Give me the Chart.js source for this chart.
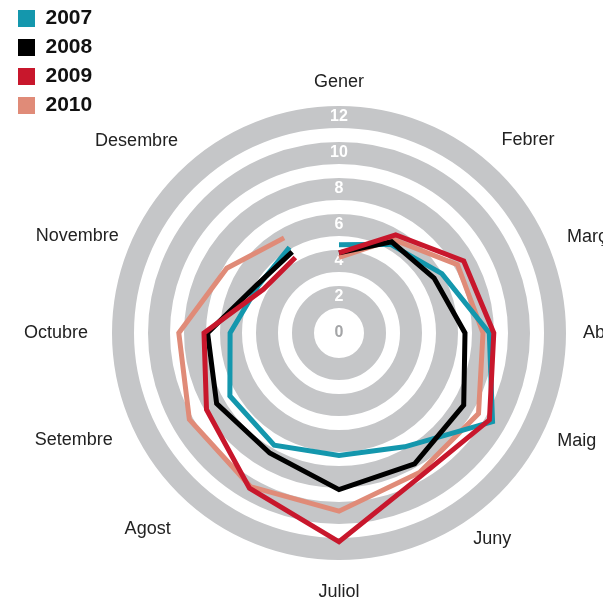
<!DOCTYPE html>
<html>
<head>
<meta charset="utf-8">
<script src="https://cdn.jsdelivr.net/npm/chart.js@4.4.1/dist/chart.umd.min.js"></script>
<style>
  html, body { margin: 0; padding: 0; overflow: hidden; background: #fff; }
  #wrap { position: absolute; left: 0; top: 0; width: 669px; height: 661px; }
</style>
</head>
<body>
<div id="wrap"><canvas id="c"></canvas></div>
<script>
// ---- data ----
const months = ['Gener', 'Febrer', 'Març', 'Abril', 'Maig', 'Juny', 'Juliol', 'Agost', 'Setembre', 'Octubre', 'Novembre', 'Desembre'];
const seriesNames = ['2007', '2008', '2009', '2010'];
const values2007 = [4.9, 5.7, 6.6, 8.35, 9.85, 7.3, 6.8, 7.2, 7.0, 6.05, 5.2, 5.5];
const values2008 = [4.45, 5.85, 6.1, 7.0, 8.0, 8.4, 8.7, 7.7, 7.85, 7.3, 5.3, 5.2];
const values2009 = [4.45, 6.3, 8.0, 8.6, 9.65, 9.15, 11.6, 9.95, 8.5, 7.5, 4.85, 4.85];
const values2010 = [4.2, 6.0, 7.6, 8.0, 8.95, 8.95, 9.9, 9.85, 9.6, 8.9, 7.2, 6.1];
const tickStep = 2, scaleMin = 0, scaleMax = 12;

// ---- styling / layout (not data) ----
const colors = ['#1497ad', '#000000', '#c8172c', '#e08b78'];
const drawOrder = [2, 1, 0, 3];
const labelGap = [35, 54, 50, 46, 45, 41, 43, 58, 70, 67, 63, 63];
const labelNudgeDeg = [0, 14.4, 8.8, 0, -5.6, -6.6, 0, 14.3, 8, 0, -9.7, -16.5];
const FONT = "'Liberation Sans', Arial, Helvetica, sans-serif";

const allValues = [values2007, values2008, values2009, values2010];

// keep each series as an open path (no segment from Desembre back to Gener)
const openLoop = {
  id: 'openLoop',
  afterDatasetUpdate(chart, args) {
    const line = chart.getDatasetMeta(args.index).dataset;
    if (line) {
      line._fullLoop = false;
      delete line._segments;
      delete line._path;
    }
  }
};

// month labels and the centre "0" tick, positioned through the radial scale
const monthLabels = {
  id: 'monthLabels',
  afterDraw(chart) {
    const s = chart.scales.r;
    const ctx = chart.ctx;
    ctx.save();
    ctx.textAlign = 'center';
    ctx.textBaseline = 'middle';
    ctx.font = '18px ' + FONT;
    ctx.fillStyle = '#222';
    chart.data.labels.forEach((m, i) => {
      const p = s.getPointPosition(i, s.drawingArea + labelGap[i], labelNudgeDeg[i] * Math.PI / 180);
      ctx.fillText(m, p.x, p.y);
    });
    const t0 = s.ticks[0];
    const z = s.getPointPositionForValue(0, t0.value);
    ctx.font = 'bold 16px ' + FONT;
    ctx.fillStyle = '#a4a5a7';
    ctx.fillText(t0.label, z.x, z.y);
    ctx.restore();
  }
};

const datasets = seriesNames.map((name, k) => ({
  label: name,
  data: allValues[k],
  borderColor: colors[k],
  backgroundColor: colors[k],
  borderWidth: 5,
  borderJoinStyle: 'miter',
  borderCapStyle: 'butt',
  fill: false,
  tension: 0,
  pointRadius: 0,
  pointHoverRadius: 0,
  order: drawOrder[k]
}));

new Chart(document.getElementById('c'), {
  type: 'radar',
  data: { labels: months, datasets },
  plugins: [openLoop, monthLabels],
  options: {
    responsive: true,
    maintainAspectRatio: false,
    animation: false,
    events: [],
    layout: { padding: { left: 10, top: 5, right: 0, bottom: 0 } },
    plugins: {
      tooltip: { enabled: false },
      legend: {
        position: 'chartArea',
        align: 'start',
        labels: {
          boxWidth: 17,
          boxHeight: 17,
          padding: 8,
          color: '#111',
          font: { family: FONT, size: 21, weight: 'bold' },
          sort: (a, b) => a.datasetIndex - b.datasetIndex,
          generateLabels: (chart) => Chart.defaults.plugins.legend.labels.generateLabels(chart)
            .map(l => Object.assign(l, { lineWidth: 0 }))
        }
      }
    },
    scales: {
      r: {
        min: scaleMin,
        max: scaleMax,
        angleLines: { display: false },
        grid: { circular: true, color: '#c5c6c8', lineWidth: 22 },
        pointLabels: { display: false },
        ticks: {
          stepSize: tickStep,
          color: '#ffffff',
          font: { family: FONT, size: 16, weight: 'bold' },
          showLabelBackdrop: false,
          backdropPadding: 104
        }
      }
    }
  }
});
</script>
</body>
</html>
